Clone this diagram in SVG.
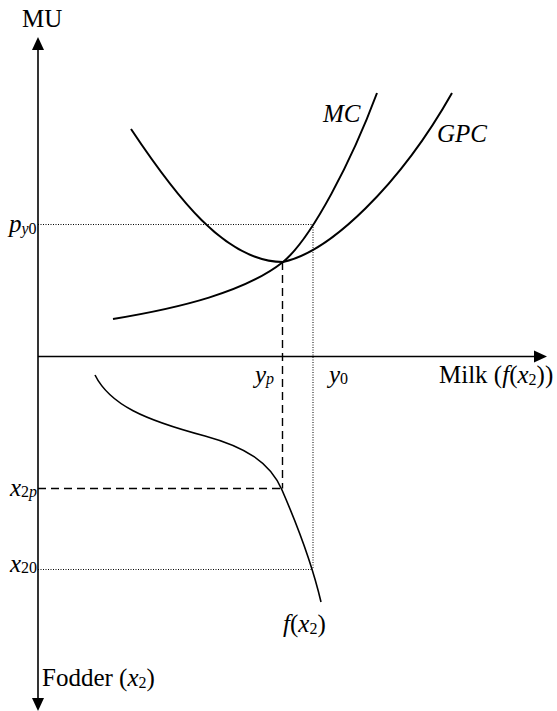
<svg xmlns="http://www.w3.org/2000/svg" width="557" height="711" viewBox="0 0 557 711">
<defs>
<style>
.axis{stroke:#000;stroke-width:1.6;fill:none}
.curve{stroke:#000;stroke-width:2;fill:none}
.fcurve{stroke:#000;stroke-width:1.6;fill:none}
.dash{stroke:#000;stroke-width:1.4;fill:none;stroke-dasharray:8 5}
.dot{stroke:#000;stroke-width:1;fill:none;stroke-dasharray:1 1.5}
text{font-family:"Liberation Serif","Times New Roman",serif;font-size:25px;fill:#000}
.it{font-style:italic}
.sub{font-size:16px}
</style>
</defs>
<rect width="557" height="711" fill="#fff"/>
<g id="axes">
<line class="axis" x1="38" y1="48" x2="38" y2="700"/>
<polygon points="38,37 32,50 44,50" fill="#000"/>
<polygon points="38,711 32,698 44,698" fill="#000"/>
<line class="axis" x1="38" y1="356.5" x2="536" y2="356.5"/>
<polygon points="547,356.5 534,350.5 534,362.5" fill="#000"/>
</g>
<g id="connectors">
<path class="dot" d="M38,224.5 H313 M313,224.5 V569.5 M38,569.5 H313"/>
<path class="dash" d="M282.5,262 V488.5 M38,488.5 H282.5"/>
</g>
<g id="MC">
<path class="curve" d="M131,129 C175,195 225,262 283,262 C312,238 352,160 377,93"/>
<text class="it" x="323" y="122">MC</text>
</g>
<g id="GPC">
<path class="curve" d="M113,319 C180,308 245,292 283,262 C330,252 400,185 452,93"/>
<text class="it" x="437" y="142">GPC</text>
</g>
<g id="fx2">
<path class="fcurve" d="M95,375 C110,405 145,420 205,436 C245,447 270,462 282,490 C292,513 310,555 321,602"/>
<text x="283" y="632"><tspan class="it">f</tspan>(<tspan class="it">x</tspan><tspan class="sub" dy="2">2</tspan><tspan dy="-2">)</tspan></text>
</g>
<g id="labels">
<text x="22" y="27">MU</text>
<text x="9" y="232"><tspan class="it">p</tspan><tspan class="sub it" dy="2">y</tspan><tspan class="sub">0</tspan></text>
<text x="255" y="383"><tspan class="it">y</tspan><tspan class="sub it" dy="1">p</tspan></text>
<text x="329" y="383"><tspan class="it">y</tspan><tspan class="sub" dy="1">0</tspan></text>
<text x="439" y="383">Milk (<tspan class="it">f</tspan>(<tspan class="it">x</tspan><tspan class="sub" dy="2">2</tspan><tspan dy="-2">))</tspan></text>
<text x="10" y="496"><tspan class="it">x</tspan><tspan class="sub" dy="1">2</tspan><tspan class="sub it">p</tspan></text>
<text x="10" y="572"><tspan class="it">x</tspan><tspan class="sub" dy="1">20</tspan></text>
<text x="42" y="686">Fodder (<tspan class="it">x</tspan><tspan class="sub" dy="2">2</tspan><tspan dy="-2">)</tspan></text>
</g>
</svg>
